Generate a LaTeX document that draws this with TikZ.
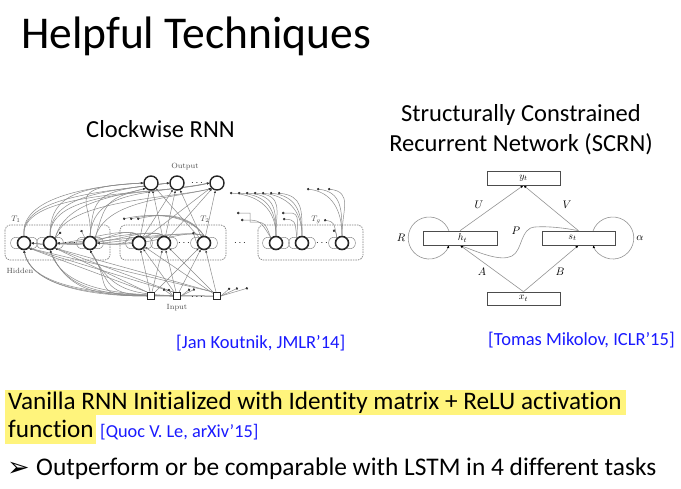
\documentclass[tikz,border=0pt]{standalone}
\usepackage{fontspec}
\setmainfont[Ligatures={NoCommon}]{Carlito}
\newfontfamily\lmr{Latin Modern Roman}
\newfontfamily\dejavu{DejaVu Sans}
\usetikzlibrary{arrows.meta}
\definecolor{hl}{HTML}{FFF47C}
\definecolor{citeblue}{HTML}{1A1AFF}
\pgfdeclarelayer{back}
\pgfsetlayers{back,main}
\tikzset{
  hid/.style={circle,draw=black!85,line width=1.6pt,minimum size=13pt,inner sep=0,fill=white},
  outn/.style={circle,draw=black!85,line width=1.4pt,minimum size=14pt,inner sep=0,fill=white},
  inn/.style={draw=black!85,line width=1pt,minimum size=7pt,inner sep=0,fill=white},
  grp/.style={draw=black!50,dash pattern=on 1.5pt off 1pt,rounded corners=5pt,line width=0.7pt},
  cw/.style={draw=black!45,line width=0.5pt},
  tip/.style={-{Latex[length=2.4pt,width=2.2pt,black!80]}},
  stub/.style={cw,{Circle[length=2.4pt,black!80]}-},
  dotsn/.style={inner sep=0,font=\fontsize{10}{10}\selectfont},
  lbl/.style={inner sep=0,font=\lmr\fontsize{7.5}{8}\selectfont,text=black!70},
  sbox/.style={draw=black!70,line width=0.6pt,fill=white,minimum width=73pt,minimum height=14pt,inner sep=0,font=\fontsize{10}{10}\selectfont},
  sc/.style={draw=black!42,line width=0.6pt},
  stip/.style={-{Latex[length=3pt,width=2.6pt,black]}},
  slbl/.style={inner sep=0,font=\fontsize{11}{11}\selectfont},
  txt/.style={anchor=base west,inner sep=0},
}
\begin{document}
\begin{tikzpicture}[x=1pt,y=-1pt]
\begin{pgfonlayer}{back}
\fill[white] (0,0) rectangle (681,488);
\end{pgfonlayer}
\useasboundingbox (0,0) rectangle (681,488);

% ---------- texts ----------
\node[txt,font=\fontsize{45.5}{50}\selectfont] (title) at (21,48) {Helpful Techniques};
\node[txt,font=\fontsize{24.5}{28}\selectfont] (cwt) at (86,137) {Clockwise RNN};
\node[anchor=base,inner sep=0,font=\fontsize{24.5}{28}\selectfont] (sct1) at (521,121) {Structurally Constrained};
\node[anchor=base,inner sep=0,font=\fontsize{24.5}{28}\selectfont] (sct2) at (521,151) {Recurrent Network (SCRN)};
\node[txt,font=\fontsize{18.5}{20}\selectfont,text=citeblue] (c1t) at (176,348) {[Jan Koutnik, JMLR’14]};
\node[txt,font=\fontsize{18.5}{20}\selectfont,text=citeblue] (c2t) at (488,345) {[Tomas Mikolov, ICLR’15]};

\begin{pgfonlayer}{back}
\fill[hl] (5,390) rectangle (626,415);
\fill[hl] (5,415) rectangle (96,444);
\end{pgfonlayer}
\node[txt,font=\fontsize{25.2}{28}\selectfont] (l1) at (8,409) {Vanilla RNN Initialized with Identity matrix + ReLU activation};
\node[txt,font=\fontsize{25.2}{28}\selectfont] (l2) at (8,437) {function};
\node[txt,font=\fontsize{18.3}{20}\selectfont,text=citeblue] (l2c) at (100,437) {[Quoc V. Le, arXiv’15]};
\node[txt,font=\dejavu\fontsize{27}{28}\selectfont] (bul) at (7,476) {➢};
\node[txt,font=\fontsize{25.4}{28}\selectfont] (l3) at (36,475) {Outperform or be comparable with LSTM in 4 different tasks};

% ---------- Clockwise RNN ----------
\draw[grp] (5,225) rectangle (110,260);
\draw[grp] (120,225) rectangle (226,260);
\draw[grp] (258,225) rectangle (363,260);

\node[outn] (o1) at (151,183) {};
\node[outn] (o2) at (177,183) {};
\node[outn] (o3) at (217,183) {};
\node[hid] (a1) at (24,243) {};
\node[hid] (a2) at (50,243) {};
\node[hid] (a3) at (90,243) {};
\node[hid] (b1) at (139,243) {};
\node[hid] (b2) at (164,243) {};
\node[hid] (b3) at (204,243) {};
\node[hid] (k1) at (276,243) {};
\node[hid] (k2) at (302,243) {};
\node[hid] (k3) at (342,243) {};
\node[inn] (i1) at (151,296) {};
\node[inn] (i2) at (177,296) {};
\node[inn] (i3) at (217,296) {};

\node[dotsn] (d1) at (197,183) {$\cdots$};
\node[dotsn] (d2) at (70,243) {$\cdots$};
\node[dotsn] (d3) at (184,243) {$\cdots$};
\node[dotsn] (d4) at (322,243) {$\cdots$};
\node[dotsn] (d5) at (240,243) {$\cdots$};
\node[dotsn] (d6) at (197,297) {$\cdots$};

\node[lbl] (lo) at (185,167) {Output};
\node[lbl] (lh) at (20,271) {Hidden};
\node[lbl] (li) at (177,308) {Input};
\node[lbl,font=\fontsize{8}{8}\selectfont] (t1) at (16,219) {$T_1$};
\node[lbl,font=\fontsize{8}{8}\selectfont] (t2) at (205,219) {$T_2$};
\node[lbl,font=\fontsize{8}{8}\selectfont] (t3) at (316,220) {$T_g$};

\begin{pgfonlayer}{back}
% T2 -> outputs
\foreach \s in {b1,b2,b3} \foreach \t in {o1,o2,o3} \draw[cw,tip] (\s) -- (\t);
% inputs -> T2
\foreach \s in {i1,i2,i3} \foreach \t in {b1,b2,b3} \draw[cw,tip] (\s) -- (\t);
% T1 -> outputs (big arcs)
\foreach \s [count=\k] in {a1,a2,a3} \foreach \t [count=\m] in {o1,o2,o3}
  \draw[cw,tip] (\s.north) .. controls +(-8+4*\k,-28-6*\m) and +(-70-8*\k+10*\m,4*\m) .. (\t.west);
\foreach \s [count=\k] in {a2,a3} \foreach \t [count=\m] in {o1,o3}
  \draw[cw,tip] (\s.north east) .. controls +(10,-30-4*\m) and +(-40,10) .. (\t.south west);
% inputs -> T1
\foreach \s [count=\m] in {i1,i2,i3} \foreach \t [count=\k] in {a1,a2,a3}
  \draw[cw,tip] (\s.west) .. controls +(-50-10*\m,0) and +(8*\k,30+5*\m) .. (\t.south);
\foreach \s [count=\m] in {i1,i2,i3} \foreach \t [count=\k] in {a1,a2}
  \draw[cw,tip] (\s.north west) -- (\t.south east);
% T2 -> T1 bundle
\foreach \s [count=\m] in {b1,b2,b3} \foreach \t [count=\k] in {a1,a2,a3}
  \draw[cw,tip] (\s.north) .. controls +(-20,-14+2*\m) and +(35+5*\k,6) .. (\t.east);
% in-module loops
\foreach \s in {a1,a2,a3,b1,b2,b3,k1,k2,k3} {
  \draw[cw] (\s.north west) .. controls +(-11,-4) and +(-11,4) .. (\s.south west);
  \draw[cw] (\s.north east) .. controls +(11,-4) and +(11,4) .. (\s.south east);
}
% stubs of T_g
\foreach \x in {230,238,246,254} \draw[stub] (\x,193) .. controls (\x+30,195) and (276,210) .. (k1.north);
\foreach \x in {262,270,278} \draw[stub] (\x,193) .. controls (\x+25,196) and (302,210) .. (k2.north);
\foreach \x in {307,317,328} \draw[stub] (\x,189) .. controls (\x+25,192) and (342,210) .. (k3.north);
\draw[stub] (237,213) -- (250,213) -- (250,222) .. controls (265,222) .. (k1.north west);
\draw[stub] (241,220) .. controls (260,220) .. (k1.north west);
\draw[stub] (282,213) -- (292,213) .. controls (298,215) .. (k2.north west);
\draw[stub] (283,219) .. controls (295,220) .. (k2.north west);
\draw[stub] (324,220) .. controls (334,222) .. (k3.north west);
\draw[stub] (333,230) .. controls (336,232) .. (k3.north west);
% other stubs
\foreach \x in {123,130,137} \draw[stub] (\x,219) .. controls (\x+30,212) and (190,215) .. (b3.north);
\draw[stub] (193,232) -- (b3.west);
\foreach \x in {230,238,248} \draw[stub] (\x,288) -- (i3.east);
\foreach \x in {163,168} \draw[stub] (\x,289) -- (i2.west);
\foreach \x in {190,195} \draw[stub] (\x,289) -- (i2.east);
\draw[stub] (61,232) -- (a2.north east);
\draw[stub] (81,230) -- (a3.north west);
\end{pgfonlayer}

% ---------- SCRN ----------
\node[sbox] (yt) at (523.5,178) {$y_t$};
\node[sbox,minimum width=74pt] (ht) at (460,238) {\hspace*{5pt}$h_t$};
\node[sbox] (st) at (578.5,238) {$s_t$\hspace*{12pt}};
\node[sbox,minimum height=13pt] (xt) at (523.5,298.5) {$x_t$};

\coordinate (rs) at (449,231);
\coordinate (as) at (593,231);
\begin{pgfonlayer}{back}
\draw[sc,stip] (ht.north) -- (yt.south);
\draw[sc,stip] (st.north) -- (yt.south);
\draw[sc,stip] (xt.north) -- (ht.south);
\draw[sc,stip] (xt.north) -- (st.south);
\draw[sc,stip] (st.north) .. controls (565,228) and (548,226) .. (535,227)
   .. controls (520,228) and (523,250) .. (512,256)
   .. controls (500,262) and (478,252) .. (ht.south);
\draw[sc,stip] (rs) arc[start angle=19.5,end angle=340.5,radius=21pt];
\draw[sc,stip] (as) arc[start angle=160.5,end angle=-160.5,radius=21pt];
\end{pgfonlayer}

\node[slbl] (lU) at (479,205) {$U$};
\node[slbl] (lV) at (567,205) {$V$};
\node[slbl] (lA) at (482,272) {$A$};
\node[slbl] (lB) at (560,272) {$B$};
\node[slbl] (lP) at (516,231) {$P$};
\node[slbl] (lR) at (401,238) {$R$};
\node[slbl] (la) at (640,238) {$\alpha$};
\end{tikzpicture}
\end{document}
